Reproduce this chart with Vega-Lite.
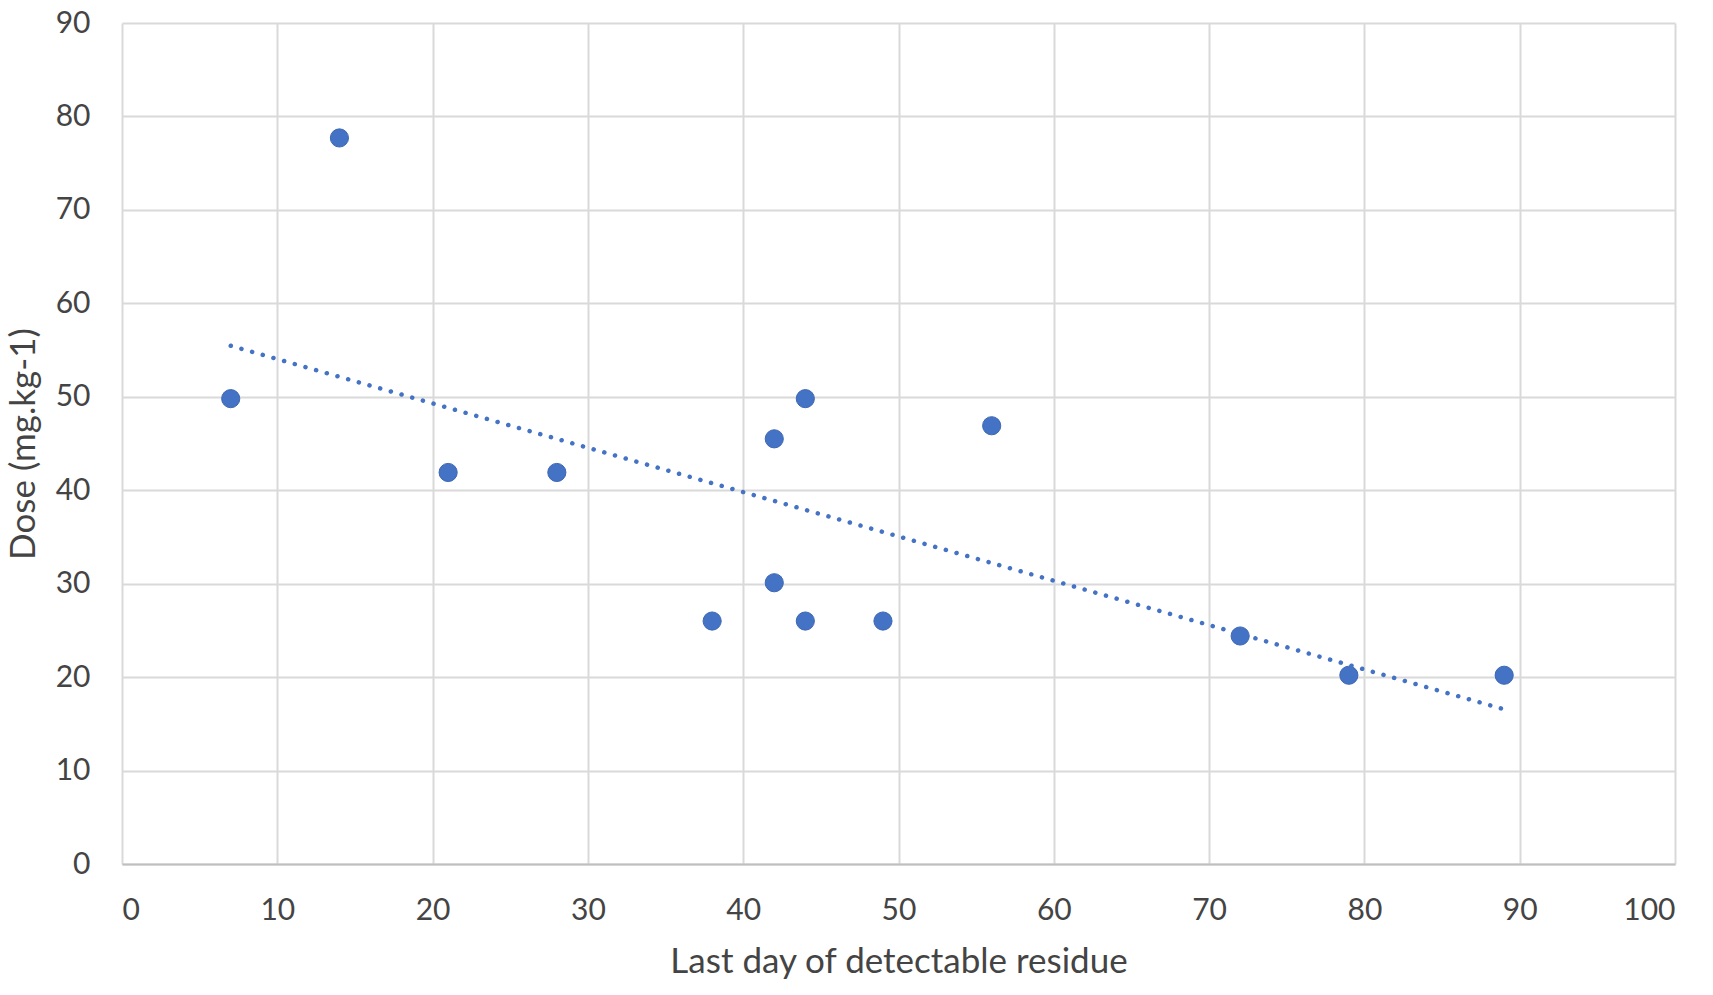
{
  "$schema": "https://vega.github.io/schema/vega-lite/v6.json",
  "description": "Dose against last day of detectable residue, with linear trendline",
  "autosize": "none",
  "width": 1553,
  "height": 841,
  "padding": {"left": 122, "top": 23, "right": 38, "bottom": 131},
  "background": "white",
  "config": {
    "view": {"stroke": null},
    "axis": {
      "labelFont": "Lato",
      "titleFont": "Lato",
      "labelColor": "#444444",
      "titleColor": "#444444",
      "labelFontSize": 30,
      "titleFontSize": 35,
      "titleFontWeight": "normal",
      "gridColor": "#d9d9d9",
      "gridWidth": 2,
      "ticks": false
    }
  },
  "data": {
    "values": [
      {"day": 7, "dose": 49.8},
      {"day": 14, "dose": 77.7},
      {"day": 21, "dose": 41.9},
      {"day": 28, "dose": 41.9},
      {"day": 38, "dose": 26.0},
      {"day": 42, "dose": 45.5},
      {"day": 42, "dose": 30.1},
      {"day": 44, "dose": 49.8},
      {"day": 44, "dose": 26.0},
      {"day": 49, "dose": 26.0},
      {"day": 56, "dose": 46.9},
      {"day": 72, "dose": 24.4},
      {"day": 79, "dose": 20.2},
      {"day": 89, "dose": 20.2}
    ]
  },
  "encoding": {
    "x": {
      "field": "day",
      "type": "quantitative",
      "title": "Last day of detectable residue",
      "scale": {"domain": [0, 100], "nice": false},
      "axis": {
        "values": [0, 10, 20, 30, 40, 50, 60, 70, 80, 90, 100],
        "labelPadding": 31,
        "titlePadding": 19,
        "domainColor": "#bfbfbf",
        "domainWidth": 2
      }
    },
    "y": {
      "field": "dose",
      "type": "quantitative",
      "title": "Dose (mg.kg-1)",
      "scale": {"domain": [0, 90], "nice": false},
      "axis": {
        "values": [0, 10, 20, 30, 40, 50, 60, 70, 80, 90],
        "labelPadding": 32,
        "titlePadding": 14,
        "domain": false
      }
    }
  },
  "layer": [
    {
      "mark": {
        "type": "circle",
        "size": 330,
        "color": "#4472c4",
        "opacity": 1,
        "stroke": "#3d67b3",
        "strokeWidth": 1
      }
    },
    {
      "transform": [{"regression": "dose", "on": "day"}],
      "mark": {
        "type": "line",
        "color": "#4472c4",
        "strokeWidth": 4.5,
        "strokeCap": "round",
        "strokeDash": [0.1, 11]
      }
    }
  ]
}
